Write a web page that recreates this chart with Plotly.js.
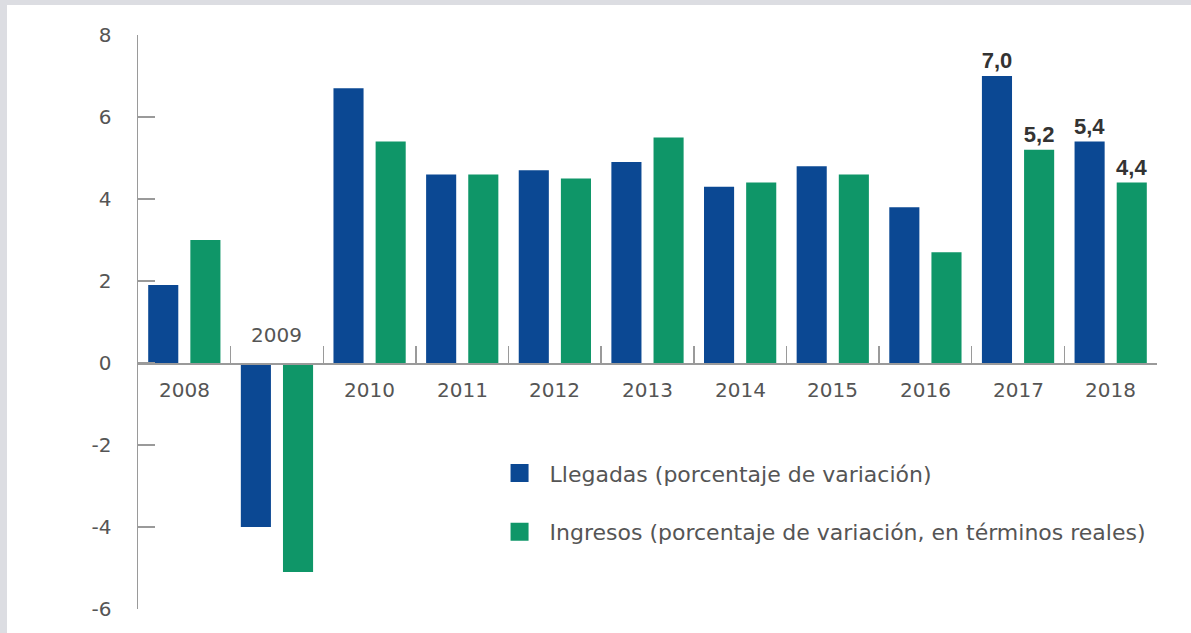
<!DOCTYPE html>
<html>
<head>
<meta charset="utf-8">
<script src="https://cdn.plot.ly/plotly-3.0.1.min.js"></script>
<style>
  html, body { margin: 0; padding: 0; background: #dcdde2; }
  #chart { position: absolute; left: 7px; top: 5px; width: 1184px; height: 628px; background: #ffffff; }
</style>
</head>
<body>
<div id="chart"></div>
<script>
// ---- data ----
const years = ['2008', '2009', '2010', '2011', '2012', '2013', '2014', '2015', '2016', '2017', '2018'];
const llegadas = [1.9, -4.0, 6.7, 4.6, 4.7, 4.9, 4.3, 4.8, 3.8, 7.0, 5.4];
const ingresos = [3.0, -5.1, 5.4, 4.6, 4.5, 5.5, 4.4, 4.6, 2.7, 5.2, 4.4];
const labeledYears = ['2017', '2018'];
const seriesNames = ['Llegadas (porcentaje de variación)', 'Ingresos (porcentaje de variación, en términos reales)'];
const yTicks = [-6, -4, -2, 0, 2, 4, 6, 8];
const yRange = [-6, 8];

const BLUE = '#0b4893';
const GREEN = '#0f9668';
const AXIS = '#9a9a9a';
const TXT = '#555555';
const FONT = 'DejaVu Sans, Liberation Sans, Arial, sans-serif';

function labels(vals) {
  return vals.map((v, i) => labeledYears.includes(years[i]) ? v.toFixed(1).replace('.', ',') : '');
}

const common = {
  type: 'bar',
  x: years,
  textposition: 'outside',
  constraintext: 'none',
  cliponaxis: false,
  textfont: { family: 'Liberation Sans, Arial, sans-serif', size: 22, color: '#333333', weight: 'bold' },
  hoverinfo: 'x+y'
};

const traces = [
  Object.assign({}, common, { name: seriesNames[0], y: llegadas, text: labels(llegadas), marker: { color: BLUE }, legendgroup: 'a' }),
  Object.assign({}, common, { name: seriesNames[1], y: ingresos, text: labels(ingresos), marker: { color: GREEN }, legendgroup: 'b' })
];

// category labels as annotations (2009 sits above the axis, others below);
// x is the category index on the category axis
const annotations = years.map((yr, i) => {
  const neg = llegadas[i] < 0 && ingresos[i] < 0;
  return {
    x: i, y: 0, xref: 'x', yref: 'y',
    text: yr, showarrow: false,
    yanchor: neg ? 'bottom' : 'top',
    yshift: neg ? 14 : -13,
    font: { family: FONT, size: 20, color: TXT }
  };
});

const layout = {
  width: 1184, height: 628,
  margin: { l: 131, r: 34, t: 30, b: 24 },
  paper_bgcolor: '#ffffff',
  plot_bgcolor: '#ffffff',
  barmode: 'group',
  bargap: 0.09,
  bargroupgap: 0.286,
  showlegend: true,
  legend: {
    x: 0.345, y: 0.273, xanchor: 'left', yanchor: 'top',
    font: { family: FONT, size: 22, color: TXT },
    itemwidth: 50,
    tracegroupgap: 27,
    bgcolor: 'rgba(0,0,0,0)'
  },
  xaxis: {
    type: 'category',
    categoryarray: years,
    range: [-0.5, years.length - 0.5],
    showticklabels: false,
    ticks: 'inside', tickson: 'boundaries', ticklen: 17, tickcolor: AXIS, tickwidth: 1.5,
    showline: true, linecolor: AXIS, linewidth: 1.5,
    showgrid: false, zeroline: false,
    anchor: 'free',
    position: (0 - yRange[0]) / (yRange[1] - yRange[0])
  },
  yaxis: {
    range: yRange,
    tickvals: yTicks,
    ticktext: yTicks.map(String),
    ticks: 'inside', ticklen: 17, tickcolor: AXIS, tickwidth: 1.5,
    showline: true, linecolor: AXIS, linewidth: 1.5,
    showgrid: false, zeroline: false,
    ticklabelstandoff: 21,
    tickfont: { family: FONT, size: 20, color: TXT }
  },
  annotations: annotations
};

Plotly.newPlot('chart', traces, layout, { displayModeBar: false, staticPlot: true }).then(() => {
  document.querySelectorAll('#chart .legendpoints path').forEach(p => p.setAttribute('d', 'M9,9H-9V-9H9Z'));
});
</script>
</body>
</html>
